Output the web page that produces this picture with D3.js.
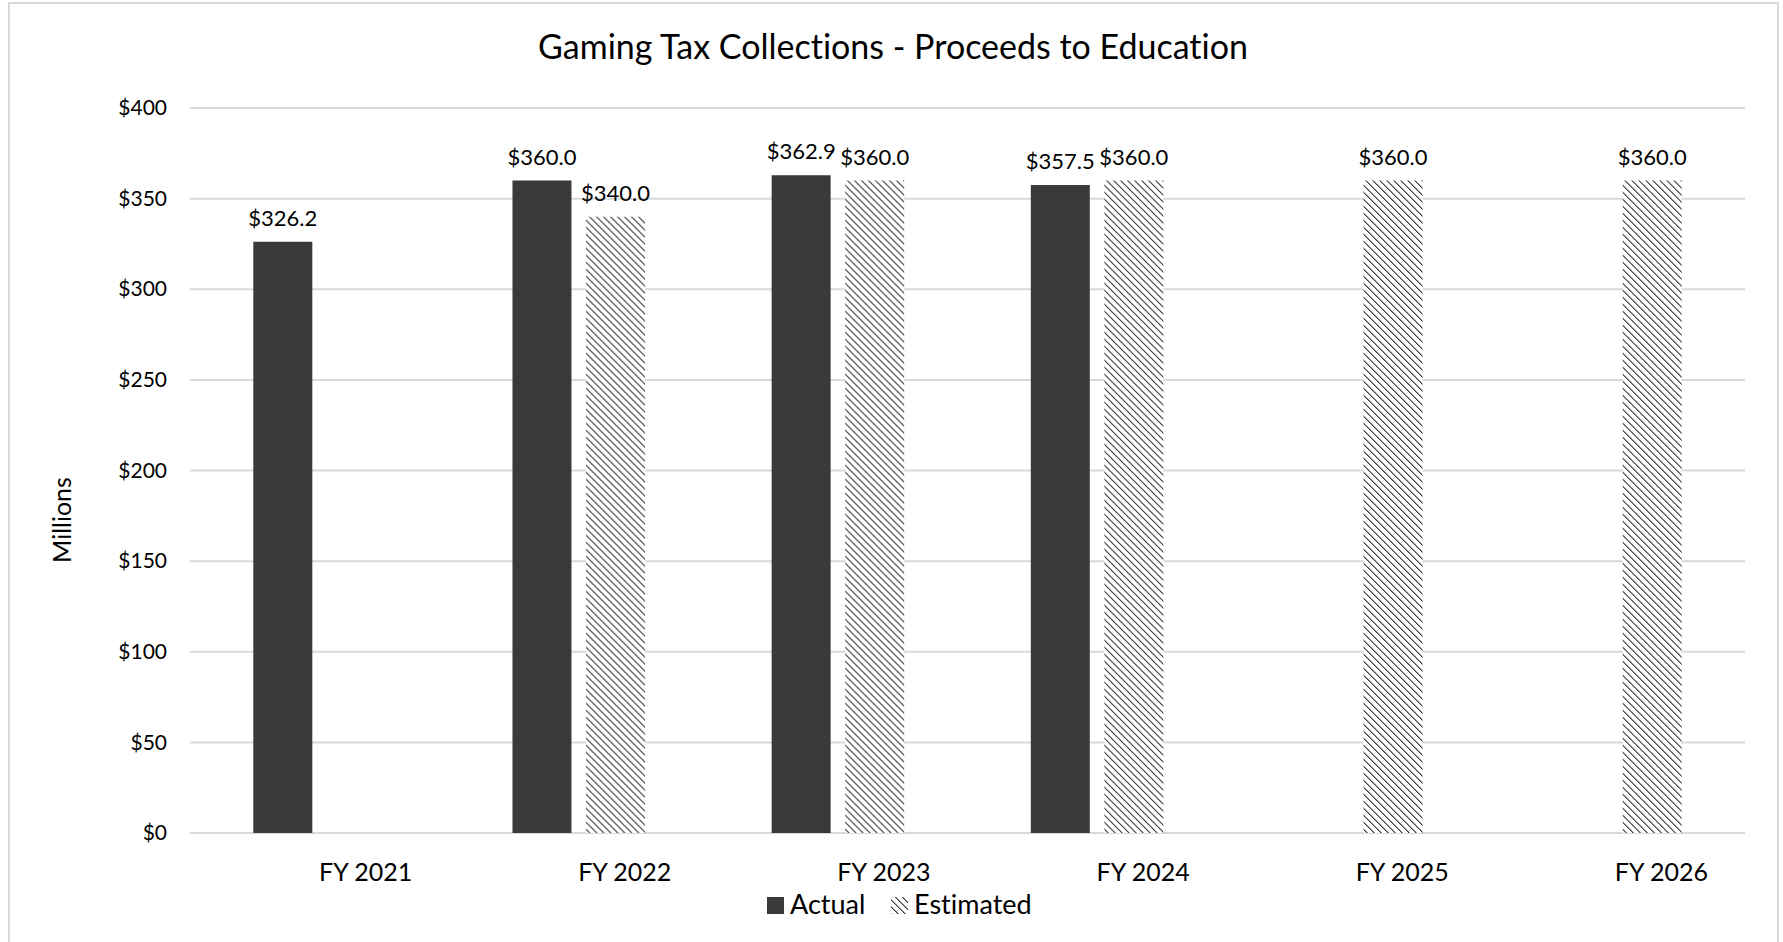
<!DOCTYPE html>
<html>
<head>
<meta charset="utf-8">
<script src="https://cdn.jsdelivr.net/npm/d3@7"></script>
<style>
  html, body { margin: 0; padding: 0; background: #fff; }
  svg { display: block; }
  text { font-family: Lato, "Open Sans", sans-serif; fill: #000; font-variant-ligatures: none; font-feature-settings: "liga" 0; }
</style>
</head>
<body>
<svg id="chart" width="1783" height="942"></svg>
<script>
// ---- Data ----
const categories = ["FY 2021", "FY 2022", "FY 2023", "FY 2024", "FY 2025", "FY 2026"];
const actualValues = [326.2, 360.0, 362.9, 357.5, null, null];
const estimatedValues = [null, 340.0, 360.0, 360.0, 360.0, 360.0];
const seriesNames = ["Actual", "Estimated"];
const yTicks = [0, 50, 100, 150, 200, 250, 300, 350, 400];
const titleText = "Gaming Tax Collections - Proceeds to Education";
const yAxisTitle = "Millions";

// ---- Layout ----
const W = 1783, H = 942;
const plot = { left: 190, right: 1745, top: 108, bottom: 833 };

const svg = d3.select("#chart");

// Pattern for estimated bars (downward diagonal, pixel-dotted)
const defs = svg.append("defs");
const tile = 7;
const pat = defs.append("pattern")
  .attr("id", "hatch")
  .attr("patternUnits", "userSpaceOnUse")
  .attr("width", tile).attr("height", tile);
pat.append("rect").attr("width", tile).attr("height", tile).attr("fill", "#ffffff");
d3.range(tile).forEach(i => {
  pat.append("rect").attr("x", i).attr("y", i).attr("width", 1).attr("height", 1)
    .attr("fill", "#3a3a3a").attr("shape-rendering", "crispEdges");
  pat.append("rect").attr("x", (i + 1) % tile).attr("y", i).attr("width", 1).attr("height", 1)
    .attr("fill", "#9a9a9a").attr("shape-rendering", "crispEdges");
});

// Frame
svg.append("rect")
  .attr("x", 9).attr("y", 3).attr("width", 1769).attr("height", 960)
  .attr("fill", "none").attr("stroke", "#d9d9d9").attr("stroke-width", 2);

// Scales
const x0 = d3.scaleBand()
  .domain(categories)
  .range([plot.left, plot.right])
  .paddingInner(0.4886).paddingOuter(0.4886 / 2);
const x1 = d3.scaleBand()
  .domain(seriesNames)
  .range([0, x0.bandwidth()])
  .paddingInner(0.198);
const y = d3.scaleLinear().domain([0, 400]).range([plot.bottom, plot.top]);

// Gridlines
svg.append("g").selectAll("line")
  .data(yTicks)
  .join("line")
  .attr("x1", plot.left).attr("x2", plot.right)
  .attr("y1", d => y(d)).attr("y2", d => y(d))
  .attr("stroke", "#d9d9d9").attr("stroke-width", 2);

// Y axis labels
const yAxis = d3.axisLeft(y).tickValues(yTicks).tickFormat(d => "$" + d).tickSize(0).tickPadding(23);
const gy = svg.append("g").attr("transform", `translate(${plot.left},0)`).call(yAxis);
gy.select(".domain").remove();
gy.selectAll("text").style("font-size", "21px").style("font-family", "Lato").attr("fill", "#000");

// X axis labels
const xAxis = d3.axisBottom(x0).tickSize(0).tickPadding(0);
const gx = svg.append("g").attr("transform", `translate(0,${plot.bottom})`).call(xAxis);
gx.select(".domain").remove();
gx.selectAll("text")
  .style("font-size", "25px").style("font-family", "Lato").attr("fill", "#000")
  .attr("dy", null).attr("y", 48).attr("dx", 46);

// Bars
const rows = categories.map((c, i) => ({ cat: c, values: [
  { key: "Actual", v: actualValues[i] },
  { key: "Estimated", v: estimatedValues[i] }
]}));

const groups = svg.append("g").selectAll("g")
  .data(rows).join("g")
  .attr("transform", d => `translate(${x0(d.cat)},0)`);

groups.selectAll("rect")
  .data(d => d.values.filter(v => v.v != null))
  .join("rect")
  .attr("x", d => x1(d.key))
  .attr("width", x1.bandwidth())
  .attr("y", d => y(d.v))
  .attr("height", d => y(0) - y(d.v))
  .attr("fill", d => d.key === "Actual" ? "#3b3a39" : "url(#hatch)");

groups.selectAll("text.lbl")
  .data(d => d.values.filter(v => v.v != null))
  .join("text")
  .attr("class", "lbl")
  .attr("x", d => x1(d.key) + x1.bandwidth() / 2)
  .attr("y", d => y(d.v) - 16)
  .attr("text-anchor", "middle")
  .style("font-size", "22px")
  .text(d => "$" + d3.format(".1f")(d.v));

// Title
svg.append("text")
  .attr("x", 893).attr("y", 59)
  .attr("text-anchor", "middle")
  .style("font-size", "34px")
  .text(titleText);

// Y axis title
svg.append("text")
  .attr("transform", `translate(71,520) rotate(-90)`)
  .attr("text-anchor", "middle")
  .style("font-size", "25px")
  .text(yAxisTitle);

// Legend
const legend = svg.append("g").attr("transform", "translate(767,914)");
const legendItems = [
  { name: "Actual", dx: 0, fill: "#3b3a39" },
  { name: "Estimated", dx: 124, fill: "url(#hatch)" }
];
const li = legend.selectAll("g").data(legendItems).join("g")
  .attr("transform", d => `translate(${d.dx},0)`);
li.append("rect").attr("x", 0).attr("y", -17).attr("width", 17).attr("height", 17)
  .attr("fill", d => d.fill);
li.append("text").attr("x", 23).attr("y", 0).style("font-size", "27px").text(d => d.name);
</script>
</body>
</html>
